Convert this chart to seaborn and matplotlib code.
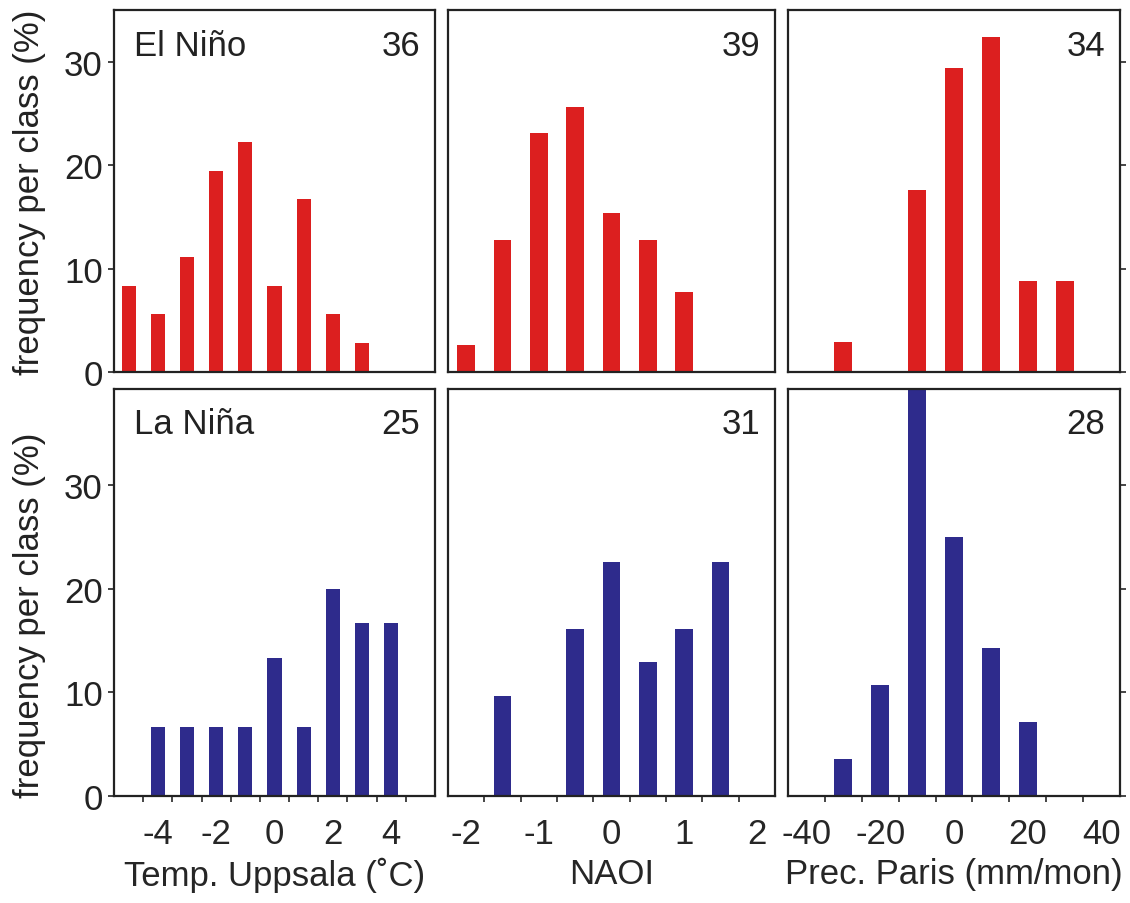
import matplotlib
matplotlib.use("Agg")
import matplotlib.pyplot as plt
import seaborn as sns
import numpy as np

# bin centres and frequencies (%)
temp_x_nino = [-5, -4, -3, -2, -1, 0, 1, 2, 3]
temp_nino = [8.3, 5.6, 11.1, 19.4, 22.2, 8.3, 16.7, 5.6, 2.8]
temp_x_nina = [-4, -3, -2, -1, 0, 1, 2, 3, 4]
temp_nina = [6.7, 6.7, 6.7, 6.7, 13.3, 6.7, 20.0, 16.7, 16.7]

naoi_x_nino = [-2, -1.5, -1, -0.5, 0, 0.5, 1]
naoi_nino = [2.6, 12.8, 23.1, 25.6, 15.4, 12.8, 7.7]
naoi_x_nina = [-1.5, -0.5, 0, 0.5, 1, 1.5]
naoi_nina = [9.7, 16.1, 22.6, 12.9, 16.1, 22.6]

prec_x_nino = [-30, -10, 0, 10, 20, 30]
prec_nino = [2.9, 17.6, 29.4, 32.4, 8.8, 8.8]
prec_x_nina = [-30, -20, -10, 0, 10, 20]
prec_nina = [3.6, 10.7, 39.3, 25.0, 14.3, 7.1]

counts_nino = ["36", "39", "34"]
counts_nina = ["25", "31", "28"]
xlabels = ["Temp. Uppsala (\u02daC)", "NAOI", "Prec. Paris (mm/mon)"]
xticks = [[-4, -2, 0, 2, 4], [-2, -1, 0, 1, 2], [-40, -20, 0, 20, 40]]
xlims = [(-5.5, 5.5), (-2.25, 2.25), (-45, 45)]
binw = [1, 0.5, 10]

RED = "#dc1f1f"
BLUE = "#2e2b8c"

sns.set_theme(style="ticks")
plt.rcParams['font.family'] = ['Liberation Sans', 'DejaVu Sans']
plt.rcParams['axes.linewidth'] = 1.6
plt.rcParams['text.color'] = '#222222'

fig = plt.figure(figsize=(11.3, 9.04), dpi=100)
W, H = 1130, 904
cols = [(114, 435), (448, 775), (788, 1120)]
rows = [(11, 373), (390, 797)]

data = [
    [(temp_x_nino, temp_nino), (naoi_x_nino, naoi_nino), (prec_x_nino, prec_nino)],
    [(temp_x_nina, temp_nina), (naoi_x_nina, naoi_nina), (prec_x_nina, prec_nina)],
]
ylims = [35, 39.3]
FS = 25

for r, (top, bot) in enumerate(rows):
    for c, (left, right) in enumerate(cols):
        ax = fig.add_axes([left / W, 1 - bot / H, (right - left) / W, (bot - top) / H])
        xs, ys = data[r][c]
        sns.barplot(x=xs, y=ys, native_scale=True, width=0.48, color=RED if r == 0 else BLUE,
                    saturation=1, linewidth=0, ax=ax)
        ax.set_xlim(*xlims[c])
        ax.set_ylim(0, ylims[r])
        for s in ax.spines.values():
            s.set_visible(True)
            s.set_color('#222222')

        # y ticks
        ax.set_yticks([0, 10, 20, 30])
        if c == 0:
            ax.tick_params(axis='y', direction='out', length=4, width=1.2, labelsize=FS, pad=4,
                           colors='#222222')
        elif c == 2:
            ax.yaxis.tick_right()
            ax.tick_params(axis='y', direction='out', length=4, width=1.2, labelright=False)
        else:
            ax.tick_params(axis='y', length=0, labelleft=False)

        # x ticks: labels at class centres, marks at class edges
        edges = np.arange(xlims[c][0] + binw[c], xlims[c][1] - binw[c] / 2, binw[c])
        ax.set_xticks(xticks[c])
        ax.set_xticks(edges, minor=True)
        if r == 1:
            ax.set_xticklabels([str(v) for v in xticks[c]])
            ax.tick_params(axis='x', which='major', length=0, labelsize=FS, pad=15)
            ax.tick_params(axis='x', which='minor', direction='out', length=4, width=1.2)
            ax.set_xlabel(xlabels[c], fontsize=FS, labelpad=5)
        else:
            ax.tick_params(axis='x', which='both', length=0, labelbottom=False)
            ax.set_xlabel("")
        ax.set_ylabel("")

        cnt = counts_nino[c] if r == 0 else counts_nina[c]
        ax.annotate(cnt, xy=(1, 1), xycoords='axes fraction', xytext=(-15, -35),
                    textcoords='offset pixels', ha='right', va='center', fontsize=FS)
        if c == 0:
            name = "El Niño" if r == 0 else "La Niña"
            ax.annotate(name, xy=(0, 1), xycoords='axes fraction', xytext=(20, -35),
                        textcoords='offset pixels', ha='left', va='center', fontsize=FS)

fig.text(30 / W, 1 - 192 / H, "frequency per class (%)", rotation=90, ha='center', va='center',
         fontsize=FS)
fig.text(30 / W, 1 - 615 / H, "frequency per class (%)", rotation=90, ha='center', va='center',
         fontsize=FS)

fig.savefig("out.png", dpi=100)
